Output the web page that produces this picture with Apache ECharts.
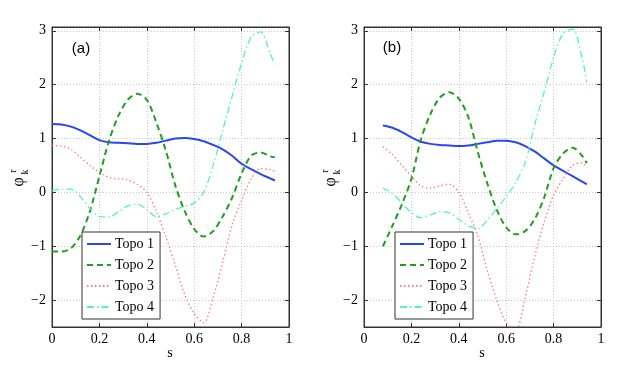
<!DOCTYPE html>
<html lang="en" style="height: 100%">
<head>
  <meta charset="utf-8">
</head>
<body style="height: 100%; margin: 0; background: #fff">
  <div id="container" style="width: 628px; height: 369px"></div>

  <script type="text/javascript" src="https://cdn.jsdelivr.net/npm/echarts@6/dist/echarts.min.js"></script>

  <script type="text/javascript">
    // panel (a)
    var sA = [0, 0.04, 0.08, 0.12, 0.16, 0.20, 0.24, 0.28, 0.32, 0.36, 0.40, 0.44, 0.48,
              0.52, 0.56, 0.60, 0.64, 0.68, 0.72, 0.76, 0.80, 0.84, 0.88, 0.92, 0.94];
    var topo1A = [1.27, 1.26, 1.22, 1.15, 1.06, 0.97, 0.93, 0.92, 0.91, 0.90, 0.90, 0.92, 0.96,
                  1.00, 1.01, 0.99, 0.95, 0.88, 0.80, 0.68, 0.53, 0.43, 0.34, 0.26, 0.22];
    var topo2A = [-1.10, -1.10, -1.04, -0.80, -0.35, 0.30, 0.95, 1.42, 1.72, 1.83, 1.72, 1.30, 0.78,
                  0.13, -0.35, -0.68, -0.82, -0.72, -0.45, -0.10, 0.35, 0.68, 0.74, 0.67, 0.65];
    var topo3A = [0.87, 0.86, 0.80, 0.65, 0.50, 0.37, 0.28, 0.25, 0.23, 0.15, 0.00, -0.35, -0.82,
                  -1.35, -1.90, -2.25, -2.42, -1.95, -1.30, -0.60, -0.15, 0.25, 0.44, 0.42, 0.39];
    var topo4A = [0.03, 0.06, 0.06, -0.08, -0.30, -0.45, -0.46, -0.36, -0.25, -0.22, -0.32, -0.45, -0.40,
                  -0.32, -0.26, -0.20, 0.00, 0.50, 1.15, 1.78, 2.40, 2.88, 2.98, 2.58, 2.38];

    // panel (b)
    var sB = [0.08, 0.12, 0.16, 0.20, 0.24, 0.28, 0.32, 0.36, 0.40, 0.44, 0.48,
              0.52, 0.56, 0.60, 0.64, 0.68, 0.72, 0.76, 0.80, 0.84, 0.88, 0.92, 0.94];
    var topo1B = [1.24, 1.20, 1.12, 1.02, 0.94, 0.90, 0.88, 0.87, 0.86, 0.87, 0.90,
                  0.93, 0.96, 0.96, 0.93, 0.86, 0.76, 0.63, 0.50, 0.40, 0.30, 0.20, 0.15];
    var topo2B = [-1.00, -0.62, -0.22, 0.25, 0.98, 1.45, 1.76, 1.86, 1.74, 1.40, 0.75,
                  0.17, -0.32, -0.65, -0.78, -0.72, -0.50, -0.10, 0.45, 0.72, 0.83, 0.68, 0.54];
    var topo3B = [0.85, 0.70, 0.50, 0.30, 0.12, 0.08, 0.12, 0.15, 0.00, -0.38, -0.80,
                  -1.45, -2.00, -2.42, -2.55, -1.95, -1.20, -0.55, -0.05, 0.25, 0.50, 0.55, 0.46];
    var topo4B = [0.08, -0.02, -0.20, -0.38, -0.47, -0.42, -0.36, -0.38, -0.50, -0.62, -0.67,
                  -0.52, -0.30, -0.08, 0.18, 0.55, 1.25, 1.86, 2.50, 2.95, 3.03, 2.50, 2.05];

    var names = ['Topo 1', 'Topo 2', 'Topo 3', 'Topo 4'];
    var yTicks = [-2, -1, 0, 1, 2, 3];

    var dom = document.getElementById('container');
    var myChart = echarts.init(dom, null, { renderer: 'canvas' });

    var serif = "'Liberation Serif', 'Times New Roman', serif";
    var styles = [
      { color: '#2b45f0', width: 2, type: 'solid' },
      { color: '#1f9e1f', width: 2, type: [6, 4] },
      { color: '#ff7878', width: 1.3, type: [1.5, 2.5] },
      { color: '#55f2c0', width: 1.3, type: [7, 3, 1.5, 3] }
    ];

    function pairs(xs, ys) {
      return xs.map(function (x, i) { return [x, ys[i]]; });
    }
    function minus(v) {
      return v < 0 ? '\u2212' + (-v) : String(v);
    }

    function xAxisFor(gi, pos, labels) {
      return {
        type: 'value', gridIndex: gi, position: pos, min: 0, max: 1, interval: 0.2,
        axisLine: { show: true, onZero: false, lineStyle: { color: '#333' } },
        axisTick: { show: true, inside: true, length: 4, lineStyle: { color: '#333' } },
        axisLabel: { show: labels, color: '#000', fontFamily: serif, fontSize: 14, margin: 5,
                     formatter: function (v) { return String(v); } },
        splitLine: { show: labels, lineStyle: { color: '#c8c8c8', type: [1, 2] } }
      };
    }
    function yAxisFor(gi, pos, labels) {
      return {
        type: 'value', gridIndex: gi, position: pos, min: -2.5, max: 3.07,
        axisLine: { show: true, onZero: false, lineStyle: { color: '#333' } },
        axisTick: { show: true, inside: true, length: 4, customValues: yTicks, lineStyle: { color: '#333' } },
        axisLabel: { show: labels, customValues: yTicks, color: '#000', fontFamily: serif, fontSize: 14,
                     margin: 6, formatter: minus },
        splitLine: { show: labels, lineStyle: { color: '#c8c8c8', type: [1, 2] } }
      };
    }

    function seriesFor(gi, xs, sets) {
      return sets.map(function (ys, k) {
        return {
          name: names[k], type: 'line', xAxisIndex: gi, yAxisIndex: gi,
          data: pairs(xs, ys), smooth: 0.3, symbol: 'none', clip: true,
          lineStyle: styles[k], itemStyle: { color: styles[k].color }, z: 3
        };
      });
    }

    function legendFor(left) {
      return {
        data: names, orient: 'vertical', left: left, top: 232,
        itemWidth: 24, itemHeight: 14, itemGap: 7, padding: [5, 6, 5, 4],
        backgroundColor: '#fff', borderColor: '#333', borderWidth: 1, borderRadius: 0,
        itemStyle: { opacity: 0 },
        textStyle: { fontFamily: serif, fontSize: 14, color: '#000', padding: [0, 0, 0, -1] },
        selectedMode: false
      };
    }

    function yName(cx) {
      return [
        { type: 'text', x: cx, y: 182, rotation: Math.PI / 2,
          style: { text: 'φ', font: '16px ' + serif, fill: '#000', align: 'center', verticalAlign: 'middle' } },
        { type: 'text', x: cx - 6, y: 171, rotation: Math.PI / 2,
          style: { text: 'r', font: '10px ' + serif, fill: '#000', align: 'center', verticalAlign: 'middle' } },
        { type: 'text', x: cx + 6, y: 172, rotation: Math.PI / 2,
          style: { text: 'k', font: '10px ' + serif, fill: '#000', align: 'center', verticalAlign: 'middle' } }
      ];
    }

    var option = {
      animation: false,
      backgroundColor: '#fff',
      grid: [
        { left: 52, top: 27, width: 237, height: 300, show: true, borderColor: '#333', borderWidth: 1 },
        { left: 364, top: 27, width: 237, height: 300, show: true, borderColor: '#333', borderWidth: 1 }
      ],
      xAxis: [
        xAxisFor(0, 'bottom', true), xAxisFor(1, 'bottom', true),
        xAxisFor(0, 'top', false), xAxisFor(1, 'top', false)
      ],
      yAxis: [
        yAxisFor(0, 'left', true), yAxisFor(1, 'left', true),
        yAxisFor(0, 'right', false), yAxisFor(1, 'right', false)
      ],
      legend: [legendFor(82), legendFor(395)],
      graphic: [].concat(
        yName(19),
        yName(331),
        [
          { type: 'text', x: 170, y: 353,
            style: { text: 's', font: '14px ' + serif, fill: '#000', align: 'center', verticalAlign: 'middle' } },
          { type: 'text', x: 482, y: 353,
            style: { text: 's', font: '14px ' + serif, fill: '#000', align: 'center', verticalAlign: 'middle' } },
          { type: 'text', x: 81, y: 49,
            style: { text: '(a)', font: '15px Arial, Helvetica, sans-serif', fill: '#000', align: 'center', verticalAlign: 'middle' } },
          { type: 'text', x: 392, y: 48,
            style: { text: '(b)', font: '15px Arial, Helvetica, sans-serif', fill: '#000', align: 'center', verticalAlign: 'middle' } }
        ]
      ),
      series: [].concat(
        seriesFor(0, sA, [topo1A, topo2A, topo3A, topo4A]),
        seriesFor(1, sB, [topo1B, topo2B, topo3B, topo4B])
      )
    };

    myChart.setOption(option);
    window.addEventListener('resize', myChart.resize);
  </script>
</body>
</html>
